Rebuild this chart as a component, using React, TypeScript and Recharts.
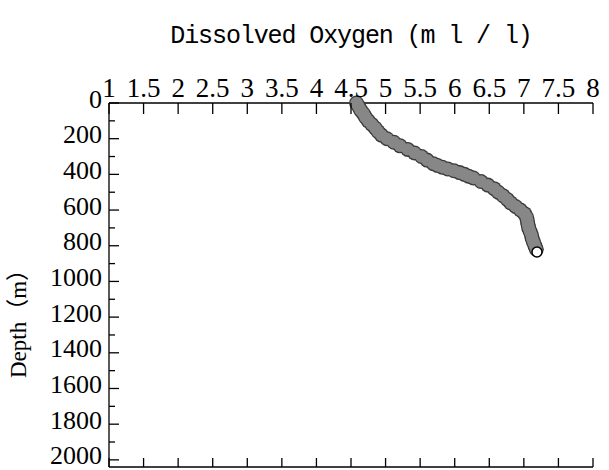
import React from 'react';
import { ScatterChart, Scatter, XAxis, YAxis } from 'recharts';

const depths = [0, 20, 40, 60, 80, 100, 120, 140, 160, 180, 200, 220, 240, 260, 280, 300, 320, 340, 350, 360, 370, 380, 390, 400, 410, 420, 440, 460, 480, 500, 520, 540, 560, 580, 600, 620, 640, 660, 680, 700, 720, 740, 760, 780, 800, 820];
const oxygen = [4.58, 4.61, 4.64, 4.68, 4.71, 4.75, 4.8, 4.85, 4.89, 4.94, 5.02, 5.12, 5.21, 5.32, 5.42, 5.52, 5.6, 5.69, 5.75, 5.82, 5.9, 5.99, 6.07, 6.14, 6.2, 6.27, 6.38, 6.48, 6.57, 6.63, 6.7, 6.76, 6.81, 6.88, 6.95, 7.01, 7.04, 7.05, 7.06, 7.07, 7.09, 7.11, 7.12, 7.14, 7.16, 7.18];
const lastDepth = [835];
const lastOxygen = [7.19];

const xTicks = [1, 1.5, 2, 2.5, 3, 3.5, 4, 4.5, 5, 5.5, 6, 6.5, 7, 7.5, 8];
const yTicks = [0, 100, 200, 300, 400, 500, 600, 700, 800, 900, 1000, 1100, 1200, 1300, 1400, 1500, 1600, 1700, 1800, 1900, 2000];
const yDomain = [0, 2040];

const profile = depths.map((d, i) => ({ depth: d, o2: oxygen[i] }));
const lastPoint = lastDepth.map((d, i) => ({ depth: d, o2: lastOxygen[i] }));

const SERIF = '"Liberation Serif", "DejaVu Serif", serif';
const MONO = '"Liberation Mono", "DejaVu Sans Mono", monospace';

const TopTick = (p: any) => (
  <g>
    <line x1={p.x} x2={p.x} y1={p.y + 10} y2={p.y + 21} stroke="#000" strokeWidth={1.3} />
    <text x={p.x} y={p.y + 4} textAnchor="middle" fontFamily={SERIF} fontSize={27} fill="#000">
      {p.payload.value}
    </text>
  </g>
);

const BottomTick = (p: any) => (
  <line x1={p.x} x2={p.x} y1={p.y} y2={p.y - 9} stroke="#000" strokeWidth={1.3} />
);

const LeftTick = (p: any) => {
  const v = p.payload.value;
  const major = v % 200 === 0;
  return (
    <g>
      <line x1={p.x + 7} x2={p.x + 7 + (major ? 10 : 6)} y1={p.y} y2={p.y} stroke="#000" strokeWidth={1.3} />
      {major && (
        <text x={p.x} y={p.y + 4.5} textAnchor="end" fontFamily={SERIF} fontSize={26} fill="#000">
          {v}
        </text>
      )}
    </g>
  );
};

const RightTick = (p: any) => {
  const v = p.payload.value;
  const major = v % 200 === 0;
  return <line x1={p.x} x2={p.x - (major ? 10 : 6)} y1={p.y} y2={p.y} stroke="#000" strokeWidth={1.3} />;
};

const DepthLabel = (p: any) => {
  const vb = p.viewBox || { x: 0, y: 0, width: 0, height: 0 };
  const cx = vb.x + 18;
  const cy = vb.y + vb.height / 2 + 33;
  return (
    <text
      x={cx}
      y={cy}
      transform={`rotate(-90 ${cx} ${cy})`}
      textAnchor="middle"
      dominantBaseline="central"
      fontFamily={`${SERIF}, "Noto Sans CJK JP"`}
      fontSize={23}
      fill="#000"
    >
      Depth（m）
    </text>
  );
};

const dotOuter = (p: any) => <circle cx={p.cx} cy={p.cy} r={7.5} fill="#3a3a3a" />;
const dotInner = (p: any) => <circle cx={p.cx} cy={p.cy} r={6.2} fill="#878787" />;
const dotLast = (p: any) => <circle cx={p.cx} cy={p.cy} r={5} fill="#fff" stroke="#000" strokeWidth={1.5} />;

export default function App() {
  return (
    <div style={{ position: 'absolute', left: 0, top: 0, background: '#fff' }}>
      <ScatterChart width={609} height={470} margin={{ top: 0, right: 16, bottom: 1, left: 0 }}>
        <XAxis
          xAxisId="top"
          orientation="top"
          type="number"
          dataKey="o2"
          domain={[1, 8]}
          ticks={xTicks}
          interval={0}
          height={103}
          tickLine={false}
          tickSize={0}
          tickMargin={10}
          axisLine={{ stroke: '#000', strokeWidth: 1.3 }}
          tick={<TopTick />}
          label={{ value: 'Dissolved Oxygen (m l / l)', position: 'insideTop', offset: 25, fontFamily: MONO, fontSize: 25, fill: '#000', letterSpacing: -1.1 }}
        />
        <XAxis
          xAxisId="bottom"
          orientation="bottom"
          type="number"
          dataKey="o2"
          domain={[1, 8]}
          ticks={xTicks}
          interval={0}
          height={2}
          tickLine={false}
          tickSize={0}
          tickMargin={0}
          axisLine={{ stroke: '#000', strokeWidth: 1.3 }}
          tick={<BottomTick />}
        />
        <YAxis
          yAxisId="left"
          type="number"
          dataKey="depth"
          domain={yDomain}
          reversed
          ticks={yTicks}
          interval={0}
          width={109}
          tickLine={false}
          tickSize={0}
          tickMargin={7}
          axisLine={{ stroke: '#000', strokeWidth: 1.3 }}
          tick={<LeftTick />}
          label={{ content: <DepthLabel /> }}
        />
        <YAxis
          yAxisId="right"
          orientation="right"
          type="number"
          dataKey="depth"
          domain={yDomain}
          reversed
          ticks={yTicks}
          interval={0}
          width={0}
          tickLine={false}
          tickSize={0}
          tickMargin={0}
          axisLine={{ stroke: '#000', strokeWidth: 1.3 }}
          tick={<RightTick />}
        />
        <Scatter xAxisId="bottom" yAxisId="right" data={profile} shape={dotOuter} isAnimationActive={false} />
        <Scatter xAxisId="top" yAxisId="left" data={profile} shape={dotInner} isAnimationActive={false} />
        <Scatter xAxisId="top" yAxisId="left" data={lastPoint} shape={dotLast} isAnimationActive={false} />
      </ScatterChart>
    </div>
  );
}
